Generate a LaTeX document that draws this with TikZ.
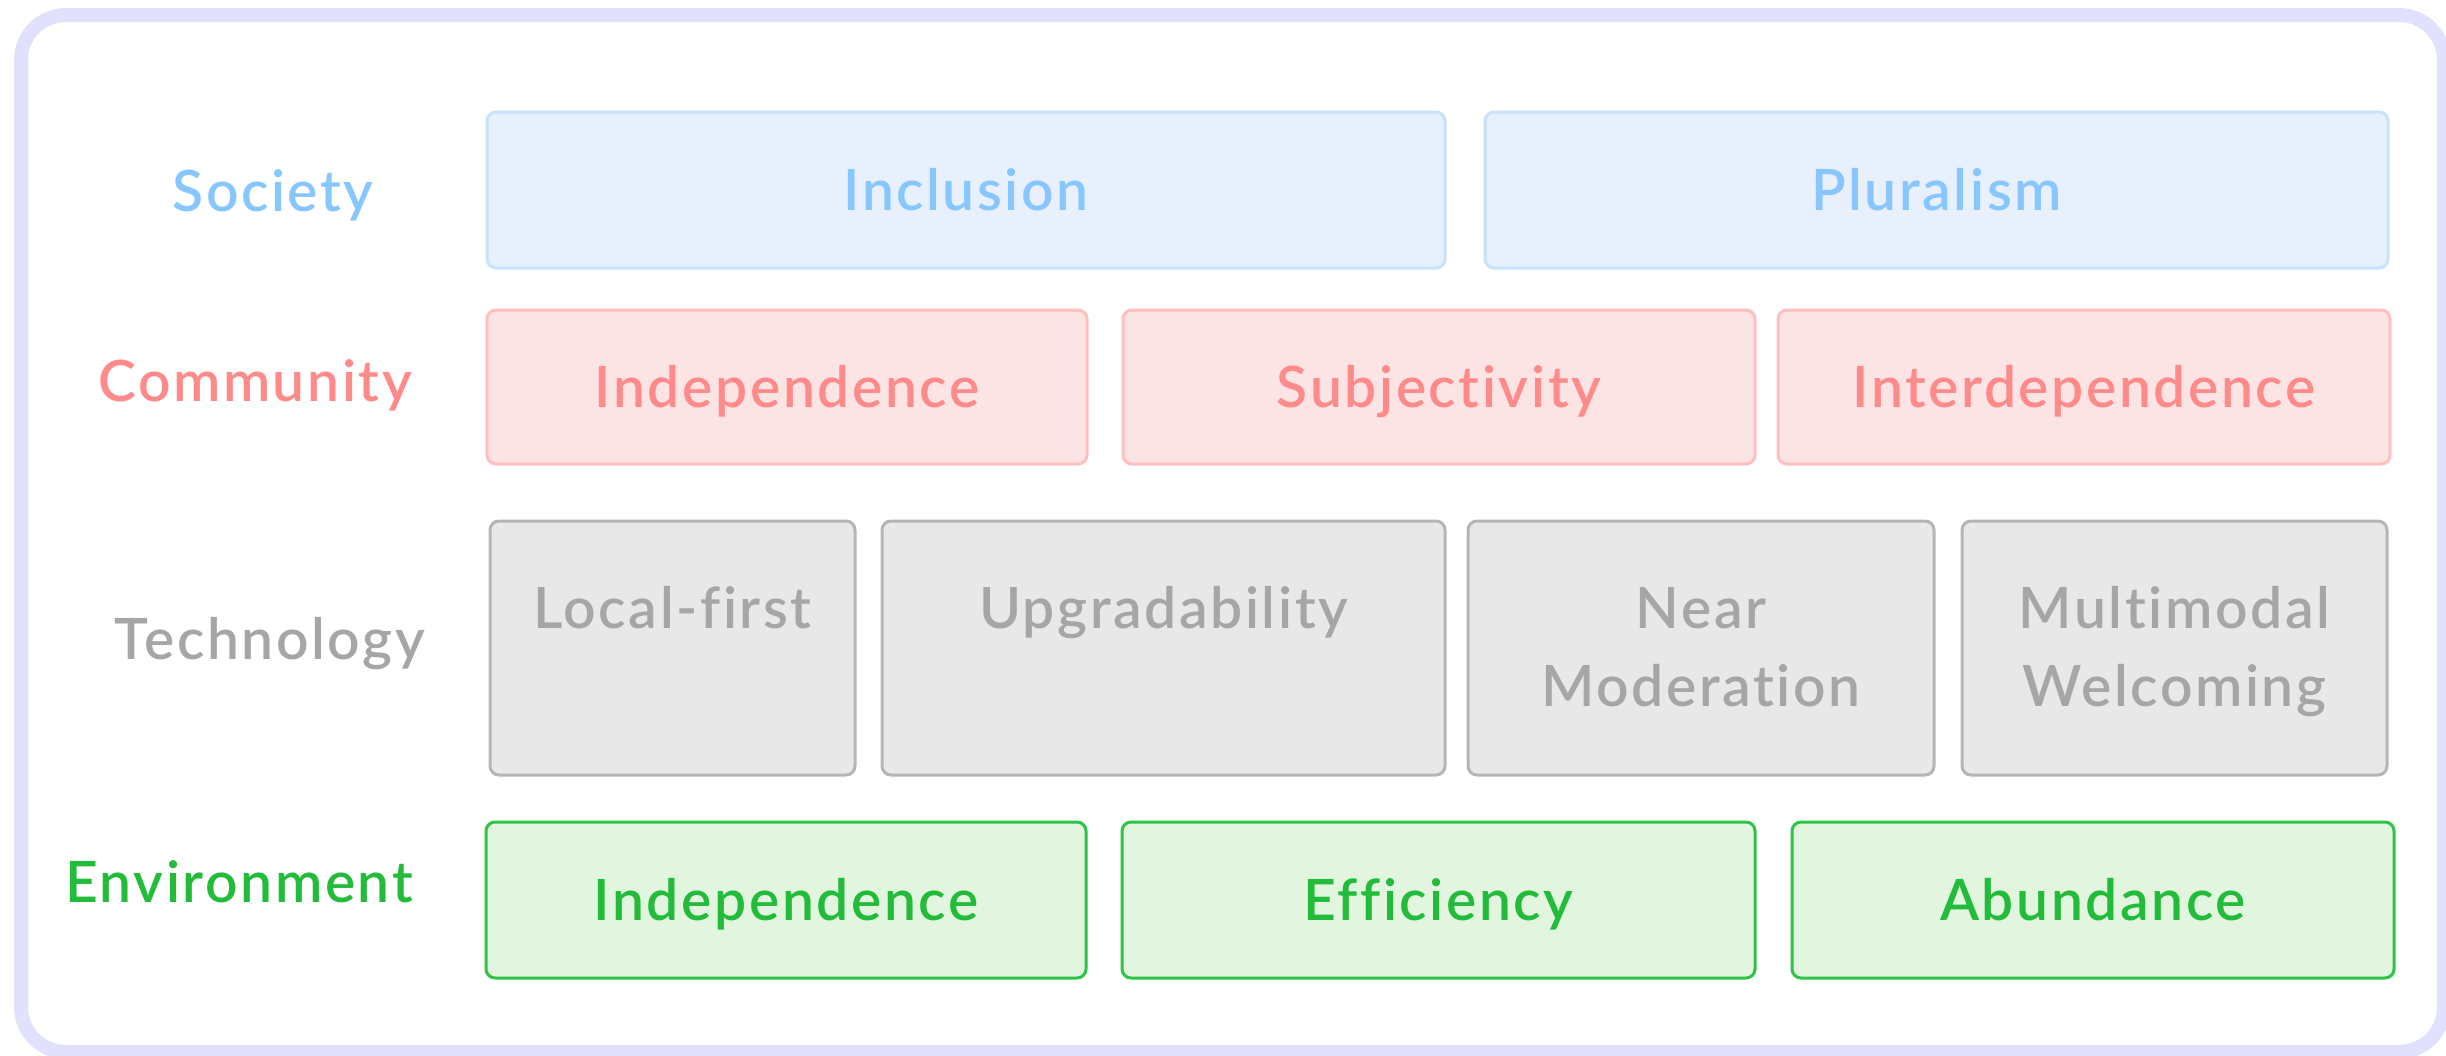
\documentclass[tikz,border=0pt]{standalone}
\usepackage{fontspec}
\setmainfont{Lato Semibold}[LetterSpace=4.5, Ligatures={NoCommon,NoRare}]
\definecolor{framec}{HTML}{E1E1FD}
\definecolor{socT}{HTML}{88C6FF}
\definecolor{socF}{HTML}{E8F0FE}
\definecolor{socD}{HTML}{C9E2FC}
\definecolor{comT}{HTML}{FF8A8A}
\definecolor{comF}{HTML}{FDE4E4}
\definecolor{comD}{HTML}{FFBFBF}
\definecolor{tecT}{HTML}{A6A6A6}
\definecolor{tecF}{HTML}{E8E8E8}
\definecolor{tecD}{HTML}{B5B5B5}
\definecolor{envT}{HTML}{22BB3A}
\definecolor{envF}{HTML}{E2F6DF}
\definecolor{envD}{HTML}{2EC445}
\begin{document}
\begin{tikzpicture}[x=1pt,y=-1pt,
  txt/.style={font=\fontsize{57}{78}\selectfont, inner sep=0pt, text height=41pt, text depth=0pt},
  cell/.style={txt, rectangle, line width=3pt, rounded corners=9pt},
  soc/.style={cell, draw=socD, fill=socF, text=socT, minimum height=156pt},
  com/.style={cell, draw=comD, fill=comF, text=comT, minimum height=154pt},
  tec/.style={cell, draw=tecD, fill=tecF, minimum height=254pt},
  env/.style={cell, draw=envD, fill=envF, text=envT, minimum height=156pt},
  tectxt/.style={txt, text=tecT}]
\useasboundingbox (0,0) rectangle (2446,1055);
\draw[framec, line width=14pt, rounded corners=45pt] (21,15) rectangle (2444,1052);
% row labels
\node[txt, text=socT] (lsoc) at (273,190.5) {Society};
\node[txt, text=comT] (lcom) at (255,381) {Community};
\node[txt, text=tecT] (ltec) at (270,639) {Technology};
\node[txt, text=envT] (lenv) at (239,882) {Environment};
% society
\node[soc, minimum width=958pt] (inclusion) at (966,190) {Inclusion};
\node[soc, minimum width=903pt] (pluralism) at (1936.5,190) {Pluralism};
% community
\node[com, minimum width=600pt] (cindep) at (787,387) {Independence};
\node[com, minimum width=632pt] (subj) at (1439,387) {Subjectivity};
\node[com, minimum width=612pt] (interdep) at (2084,387) {Interdependence};
% technology
\node[tec, minimum width=365pt] (local) at (672.5,648) {};
\node[tec, minimum width=563pt] (upgr) at (1163.5,648) {};
\node[tec, minimum width=466pt] (near) at (1701,648) {};
\node[tec, minimum width=425pt] (multi) at (2174.5,648) {};
\node[tectxt] (localt) at (672.5,608) {Local-first};
\node[tectxt] (upgrt) at (1163.5,608) {Upgradability};
\node[tectxt] (neart1) at (1701,608) {Near};
\node[tectxt] (neart2) at (1701,686) {Moderation};
\node[tectxt] (multit1) at (2174.5,608) {Multimodal};
\node[tectxt] (multit2) at (2174.5,686) {Welcoming};
% environment
\node[env, minimum width=600pt] (eindep) at (786,900) {Independence};
\node[env, minimum width=633pt] (eff) at (1438.5,900) {Efficiency};
\node[env, minimum width=602pt] (abund) at (2093,900) {Abundance};
\end{tikzpicture}
\end{document}
